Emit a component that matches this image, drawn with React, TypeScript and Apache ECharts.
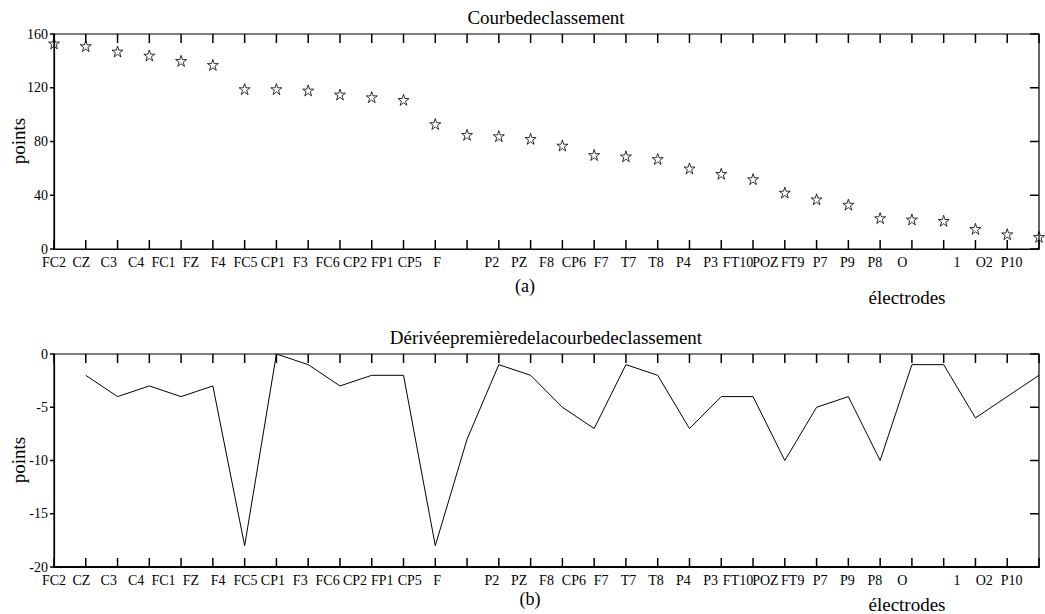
import React, { useEffect, useRef } from "react";
import * as echarts from "echarts";

const FONT = "'Liberation Serif', 'Times New Roman', serif";

// Electrode tick labels (36 slots with two blanks, plus a trailing empty slot)
const electrodeLabels = [
  "FC2", "CZ", "C3", "C4", "FC1", "FZ", "F4", "FC5", "CP1", "F3", "FC6", "CP2",
  "FP1", "CP5", "F", "", "P2", "PZ", "F8", "CP6", "F7", "T7", "T8", "P4", "P3",
  "FT10", "POZ", "FT9", "P7", "P9", "P8", "O", "", "1", "O2", "P10", "",
];

// Ranking curve values (points), 32 positions
const rankValues = [
  153, 151, 147, 144, 140, 137, 119, 119, 118, 115, 113, 111, 93, 85, 84, 82,
  77, 70, 69, 67, 60, 56, 52, 42, 37, 33, 23, 22, 21, 15, 11, 9,
];

// First derivative values, positions 1..31
const derivValues = [
  -2, -4, -3, -4, -3, -18, 0, -1, -3, -2, -2, -18, -8, -1, -2, -5, -7, -1, -2,
  -7, -4, -4, -10, -5, -4, -10, -1, -1, -6, -4, -2,
];

// Axis tick positions
const xTickValues = [
  0, 1, 2, 3, 4, 5, 6, 7, 8, 9, 10, 11, 12, 13, 14, 15, 16, 17, 18, 19, 20, 21,
  22, 23, 24, 25, 26, 27, 28, 29, 30, 31,
];
const rankTicks = [0, 40, 80, 120, 160];
const derivTicks = [-20, -15, -10, -5, 0];

const topTitle = "Courbedeclassement";
const bottomTitle = "Dérivéepremièredelacourbedeclassement";
const yName = "points";
const xName = "électrodes";

const STAR =
  "path://M50,0 L61.2,34.5 L97.6,34.5 L68.2,55.9 L79.4,90.5 L50,69.1 L20.6,90.5 L31.8,55.9 L2.4,34.5 L38.8,34.5 Z";

const black = "#000";
const X_MIN = 0;
const X_MAX = 31;

function valueX(gridIndex: number, width: number) {
  return {
    type: "value",
    gridIndex,
    position: "bottom",
    min: X_MIN,
    max: X_MAX,
    interval: 1,
    axisLine: { show: true, onZero: false, lineStyle: { color: black, width } },
    axisTick: { show: false },
    axisLabel: { show: false },
    splitLine: { show: false },
  };
}

function labelX(gridIndex: number) {
  return {
    type: "category",
    gridIndex,
    position: "bottom",
    data: electrodeLabels,
    boundaryGap: false,
    axisLine: { show: false },
    axisTick: { show: false },
    axisLabel: {
      show: true,
      interval: 0,
      fontSize: 14,
      fontFamily: FONT,
      color: black,
      margin: 6,
    },
    splitLine: { show: false },
  };
}

function leftY(gridIndex: number, min: number, max: number, interval: number) {
  return {
    type: "value",
    gridIndex,
    position: "left",
    min,
    max,
    interval,
    axisLine: { show: true, onZero: false, lineStyle: { color: black, width: 1.2 } },
    axisTick: { show: false },
    axisLabel: { show: true, fontSize: 14, fontFamily: FONT, color: black, margin: 6 },
    splitLine: { show: false },
  };
}

function textEl(text: string, x: number, y: number, size: number, rotation = 0) {
  return {
    type: "text",
    x,
    y,
    rotation,
    style: {
      text,
      fontSize: size,
      fontFamily: FONT,
      fill: black,
      align: "center",
      verticalAlign: "middle",
      textAlign: "center",
      textVerticalAlign: "middle",
    },
  };
}

function tickLine(p: number[], dx: number, dy: number) {
  return {
    type: "line",
    shape: { x1: p[0], y1: p[1], x2: p[0] + dx, y2: p[1] + dy },
    style: { stroke: black, lineWidth: 1.5 },
  };
}

// Tick marks positioned through the axes' own scales (convertToPixel)
function frameTickLines(chart: any, xAxisIndex: number, yAxisIndex: number, yTicks: number[], yMin: number, yMax: number) {
  const finder = { xAxisIndex, yAxisIndex };
  const out: any[] = [];
  xTickValues.forEach((v) => {
    const b = chart.convertToPixel(finder, [v, yMin]);
    const t = chart.convertToPixel(finder, [v, yMax]);
    if (b) out.push(tickLine(b, 0, -9));
    if (t) out.push(tickLine(t, 0, 9));
  });
  yTicks.forEach((v) => {
    const l = chart.convertToPixel(finder, [X_MIN, v]);
    const r = chart.convertToPixel(finder, [X_MAX, v]);
    if (l) out.push(tickLine(l, -4, 0));
    if (r) out.push(tickLine(r, -9, 0));
  });
  return out;
}

export default function App() {
  const ref = useRef<HTMLDivElement>(null);

  useEffect(() => {
    if (!ref.current) return;
    const chart = echarts.init(ref.current, null, { renderer: "svg" });
    const titleStyle = { fontSize: 19, fontWeight: "normal", fontFamily: FONT, color: black };
    const gridBase = {
      show: true,
      borderColor: black,
      borderWidth: 1.2,
      backgroundColor: "transparent",
      containLabel: false,
      outerBoundsMode: "none",
    };
    chart.setOption({
      animation: false,
      backgroundColor: "#fff",
      title: [
        { text: topTitle, left: 546, top: 8, textAlign: "center", padding: 0, textStyle: titleStyle },
        { text: bottomTitle, left: 546, top: 328, textAlign: "center", padding: 0, textStyle: titleStyle },
      ],
      grid: [
        { ...gridBase, left: 54, top: 34, width: 985, height: 215 },
        { ...gridBase, left: 54, top: 354, width: 985, height: 213 },
      ],
      xAxis: [valueX(0, 1.2), labelX(0), valueX(1, 2), labelX(1)],
      yAxis: [leftY(0, 0, 160, 40), leftY(1, -20, 0, 5)],
      series: [
        {
          type: "scatter",
          xAxisIndex: 0,
          yAxisIndex: 0,
          data: rankValues.map((v, i) => [i, v]),
          symbol: STAR,
          symbolSize: 11,
          clip: false,
          itemStyle: { color: "rgba(0,0,0,0)", borderColor: black, borderWidth: 1 },
        },
        {
          type: "line",
          xAxisIndex: 2,
          yAxisIndex: 1,
          data: derivValues.map((v, i) => [i + 1, v]),
          showSymbol: false,
          symbol: "none",
          lineStyle: { color: black, width: 1 },
        },
      ],
    });
    chart.setOption({
      graphic: [
        ...frameTickLines(chart, 0, 0, rankTicks, 0, 160),
        ...frameTickLines(chart, 2, 1, derivTicks, -20, 0),
        textEl(yName, 18, 141, 19, Math.PI / 2),
        textEl(yName, 18, 460, 19, Math.PI / 2),
        textEl("(a)", 525, 286, 18),
        textEl(xName, 907, 297, 19),
        textEl("(b)", 530, 599, 18),
        textEl(xName, 907, 604, 19),
      ],
    });
    return () => chart.dispose();
  }, []);

  return (
    <div
      ref={ref}
      style={{ position: "fixed", left: 0, top: 0, width: 1045, height: 614 }}
    />
  );
}
